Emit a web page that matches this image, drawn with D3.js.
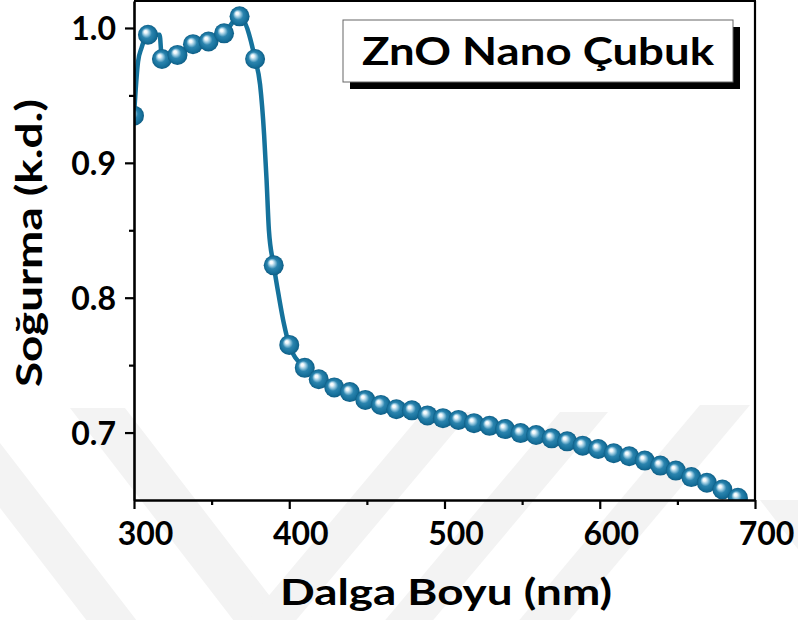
<!DOCTYPE html>
<html>
<head>
<meta charset="utf-8">
<script src="https://cdn.jsdelivr.net/npm/d3@7"></script>
<style>
  html, body { margin: 0; padding: 0; background: #ffffff; }
  svg { display: block; }
  text { font-family: Lato, "Open Sans", "DejaVu Sans", sans-serif; font-weight: 700; fill: #000; }
</style>
</head>
<body>
<div id="chart"></div>
<script>
// Absorption spectrum of ZnO nanorods

// Marker positions (wavelength, nm) and absorbance (a.u.)
const markerWl = [300, 309, 318, 328, 338, 348, 358, 368, 378, 390,
                  400, 410, 419, 429, 439, 449, 459, 469, 479, 489,
                  499, 509, 519, 529, 539, 549, 559, 569, 579, 589,
                  599, 609, 619, 629, 639, 649, 659, 669, 679, 689];
const markerAbs = [0.935, 0.995, 0.977, 0.980, 0.988, 0.990, 0.996, 1.0086, 0.977, 0.824,
                   0.765, 0.748, 0.7395, 0.7335, 0.7300, 0.7242, 0.7205, 0.7173, 0.7165, 0.7127,
                   0.7107, 0.7094, 0.7070, 0.7050, 0.7026, 0.6996, 0.6982, 0.6957, 0.6935, 0.6903,
                   0.6878, 0.6847, 0.6824, 0.6792, 0.6755, 0.6718, 0.6670, 0.6628, 0.6578, 0.6517];

// Extra spectrum samples between markers where the trace bends
const extraWl  = [302.6, 304.8, 316.5, 381.2, 383.8, 385.4, 386.9, 393.3, 396.5];
const extraAbs = [0.975, 0.985, 0.995, 0.958, 0.921, 0.887, 0.850, 0.801, 0.781];

// Axis ticks
const xMajor = [300, 400, 500, 600, 700];
const xMinor = [350, 450, 550, 650];
const yMajor = [0.7, 0.8, 0.9, 1.0];
const yMinor = [0.75, 0.85, 0.95];

const legendText = "ZnO Nano Çubuk";
const xTitle = "Dalga Boyu (nm)";
const yTitle = "Soğurma (k.d.)";

const W = 798, H = 620;
const plot = { left: 134, right: 755, top: 1, bottom: 500 };
const lineColor = "#15729c";

const svg = d3.select("#chart").append("svg").attr("width", W).attr("height", H);

// faint background stripes
const wm = svg.append("g").attr("fill", "#f3f3f3");
const band = (xTop, yTop, width, slope) => {
  const yBot = H;
  const dx = (yBot - yTop) * slope;
  return [[xTop, yTop], [xTop + width, yTop], [xTop + width + dx, yBot], [xTop + dx, yBot]];
};
[[70, 408, 55, 0.77], [-60, 430, 50, 0.77],
 [423, 412, 48, -0.84], [560, 412, 48, -0.84], [700, 405, 50, -0.84], [760, 500, 60, 0.77]]
  .forEach(b => wm.append("polygon").attr("points", band(...b).map(p => p.join(",")).join(" ")));

const x = d3.scaleLinear().domain([300, 700]).range([plot.left, plot.right]);
const y = d3.scaleLinear().domain([0.65, 1.02]).range([plot.bottom, plot.top]);

const defs = svg.append("defs");
defs.append("clipPath").attr("id", "plotClip")
  .append("rect").attr("x", plot.left).attr("y", plot.top - 20)
  .attr("width", plot.right - plot.left).attr("height", plot.bottom - plot.top + 20);

const grad = defs.append("radialGradient").attr("id", "sphere")
  .attr("cx", "50%").attr("cy", "50%").attr("r", "50%")
  .attr("fx", "36%").attr("fy", "33%");
[["0%", "#ffffff"], ["14%", "#f2f9fc"], ["32%", "#93c6de"], ["52%", "#2b84ae"],
 ["82%", "#16709b"], ["100%", "#0f5d84"]]
  .forEach(([o, c]) => grad.append("stop").attr("offset", o).attr("stop-color", c));

// spectrum trace
const lineData = markerWl.map((w, i) => [w, markerAbs[i]])
  .concat(extraWl.map((w, i) => [w, extraAbs[i]]))
  .sort((a, b) => a[0] - b[0]);

const g = svg.append("g").attr("clip-path", "url(#plotClip)");
g.append("path")
  .datum(lineData)
  .attr("fill", "none")
  .attr("stroke", lineColor)
  .attr("stroke-width", 4.5)
  .attr("stroke-linejoin", "round")
  .attr("d", d3.line().x(d => x(d[0])).y(d => y(d[1])).curve(d3.curveMonotoneX));

g.selectAll("circle.m")
  .data(markerWl.map((w, i) => [w, markerAbs[i]]))
  .join("circle")
  .attr("class", "m")
  .attr("cx", d => x(d[0]))
  .attr("cy", d => y(d[1]))
  .attr("r", 10)
  .attr("fill", "url(#sphere)");

// frame (top and right)
svg.append("line").attr("x1", plot.left).attr("x2", plot.right + 1)
  .attr("y1", plot.top).attr("y2", plot.top).attr("stroke", "#000").attr("stroke-width", 2.2);
svg.append("line").attr("x1", plot.right).attr("x2", plot.right)
  .attr("y1", plot.top).attr("y2", plot.bottom).attr("stroke", "#000").attr("stroke-width", 2.2);

// axes
const styleAxis = (sel, fs) => {
  sel.select(".domain").attr("stroke", "#000").attr("stroke-width", 2.6);
  sel.selectAll(".tick line").attr("stroke", "#000").attr("stroke-width", 2.2);
  sel.selectAll(".tick text").style("font-size", fs + "px").style("font-weight", 700)
    .attr("fill", "#000");
};

const xAxis = svg.append("g").attr("transform", `translate(0,${plot.bottom})`)
  .call(d3.axisBottom(x).tickValues(xMajor).tickSize(9).tickSizeOuter(0).tickPadding(13)
    .tickFormat(d3.format("d")));
styleAxis(xAxis, 32);
xAxis.selectAll(".tick text").attr("dx", 11).attr("dy", "0.72em");

const xAxisMinor = svg.append("g").attr("transform", `translate(0,${plot.bottom})`)
  .call(d3.axisBottom(x).tickValues(xMinor).tickSize(5).tickSizeOuter(0).tickFormat(""));
styleAxis(xAxisMinor, 32);
xAxisMinor.select(".domain").remove();

const yAxis = svg.append("g").attr("transform", `translate(${plot.left},0)`)
  .call(d3.axisLeft(y).tickValues(yMajor).tickSize(9).tickSizeOuter(0).tickPadding(9)
    .tickFormat(d3.format(".1f")));
styleAxis(yAxis, 32);
yAxis.selectAll(".tick text").attr("dy", "0.36em");

const yAxisMinor = svg.append("g").attr("transform", `translate(${plot.left},0)`)
  .call(d3.axisLeft(y).tickValues(yMinor).tickSize(5).tickSizeOuter(0).tickFormat(""));
styleAxis(yAxisMinor, 32);
yAxisMinor.select(".domain").remove();

// axis titles
svg.append("text")
  .attr("x", 446).attr("y", 605)
  .attr("text-anchor", "middle")
  .attr("textLength", 332).attr("lengthAdjust", "spacingAndGlyphs")
  .style("font-size", "37px")
  .text(xTitle);

svg.append("text")
  .attr("transform", "translate(42,243) rotate(-90)")
  .attr("text-anchor", "middle")
  .attr("textLength", 288).attr("lengthAdjust", "spacingAndGlyphs")
  .style("font-size", "37px")
  .text(yTitle);

// label box with drop shadow
const box = { x: 343, y: 20, w: 390, h: 62, off: 7 };
svg.append("rect").attr("x", box.x + box.off).attr("y", box.y + box.off)
  .attr("width", box.w).attr("height", box.h).attr("fill", "#000");
svg.append("rect").attr("x", box.x).attr("y", box.y)
  .attr("width", box.w).attr("height", box.h)
  .attr("fill", "#fff").attr("stroke", "#666").attr("stroke-width", 1);
svg.append("text")
  .attr("x", 538).attr("y", 65)
  .attr("text-anchor", "middle")
  .attr("textLength", 352).attr("lengthAdjust", "spacingAndGlyphs")
  .style("font-size", "38px")
  .text(legendText);
</script>
</body>
</html>
